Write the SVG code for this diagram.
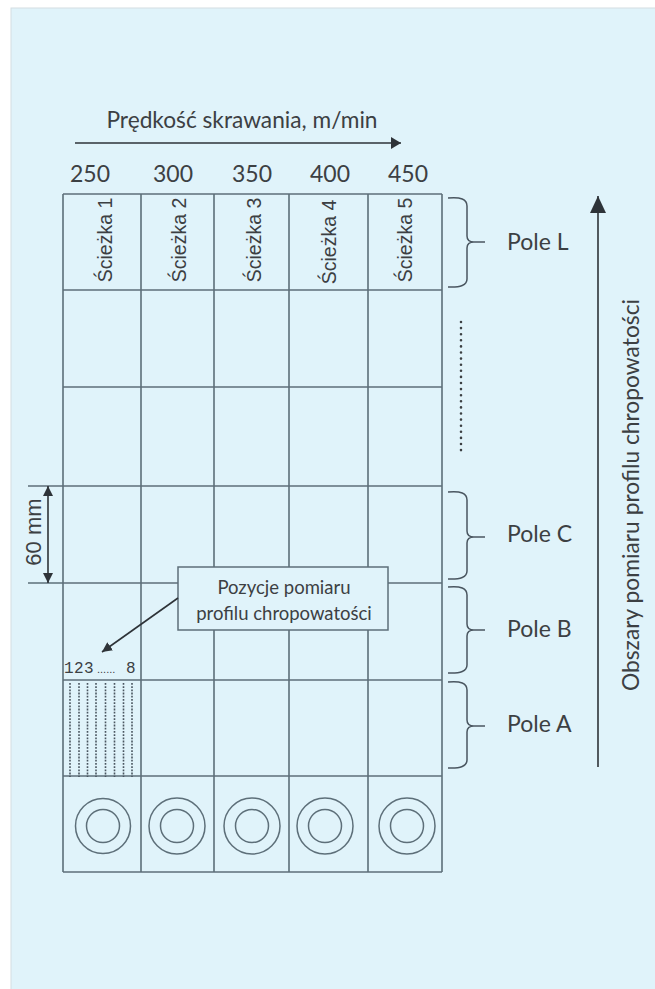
<svg xmlns="http://www.w3.org/2000/svg" width="655" height="989" viewBox="0 0 655 989">
<style>
.bg{fill:#e0f3fa;stroke:#d3dde2;stroke-width:1}
.g{stroke:#5d6f79;stroke-width:1.6;fill:none}
.c{stroke:#5d6f79;stroke-width:1.5;fill:none}
.k{stroke:#2e3338;stroke-width:1.6;fill:none}
.cal{font-family:Lato,"Open Sans",sans-serif;fill:#3c4043}
.ari{font-family:"Liberation Sans",Arial,sans-serif;fill:#3c4043}
.br{stroke:#4a5660;stroke-width:1.5;fill:none}
.dash{stroke:#4a5660;stroke-width:1.6;stroke-dasharray:1.8 1.4;fill:none}
</style>
<defs>
<marker id="mH" markerUnits="userSpaceOnUse" viewBox="0 0 10 12" refX="10" refY="6" markerWidth="10" markerHeight="12" orient="auto"><path d="M0,0L10,6L0,12z" fill="#2e3338"/></marker>
<marker id="mV" markerUnits="userSpaceOnUse" viewBox="0 0 17 16" refX="17" refY="8" markerWidth="17" markerHeight="16" orient="auto"><path d="M0,0L17,8L0,16z" fill="#2e3338"/></marker>
<marker id="mS" markerUnits="userSpaceOnUse" viewBox="0 0 10 10" refX="10" refY="5" markerWidth="10" markerHeight="10" orient="auto-start-reverse"><path d="M0,0L10,5L0,10z" fill="#2e3338"/></marker>
</defs>
<rect x="11" y="8" width="650" height="990" class="bg"/>

<g id="speed-axis">
<text class="cal" x="242" y="128" font-size="22.7" text-anchor="middle">Prędkość skrawania, m/min</text>
</g>
<g id="speed-values" class="cal" font-size="23" text-anchor="middle">
<text x="90" y="182">250</text>
<text x="173" y="182">300</text>
<text x="252" y="182">350</text>
<text x="330" y="182">400</text>
<text x="408" y="182">450</text>
</g>

<g id="grid">
<path class="g" d="M63,194V872M141,194V872M214,194V872M289,194V872M368,194V872M442,194V872"/>
<path class="g" d="M63,194H442M63,290H442M63,387H442M28,486H442M63,583H442M63,680H442M63,776H442M63,872H442"/>
<path class="g" d="M28,583H63"/>
</g>

<g id="tracks" class="ari" font-size="19.5" text-anchor="middle">
<text transform="translate(112,240) rotate(-90)">Ścieżka 1</text>
<text transform="translate(186,240) rotate(-90)">Ścieżka 2</text>
<text transform="translate(261,240) rotate(-90)">Ścieżka 3</text>
<text transform="translate(336,242) rotate(-90)">Ścieżka 4</text>
<text transform="translate(412,240) rotate(-90)">Ścieżka 5</text>
</g>

<g id="dim-60mm">
<text class="ari" font-size="22" text-anchor="middle" transform="translate(41,532) rotate(-90)">60 mm</text>
</g>

<g id="callout">
<rect x="178" y="567" width="210" height="63" fill="#e0f3fa" stroke="#5d6f79" stroke-width="1.5"/>
<text class="cal" font-size="18.5" text-anchor="middle" x="284" y="594">Pozycje pomiaru</text>
<text class="cal" font-size="18.5" text-anchor="middle" x="284" y="620">profilu chropowatości</text>
</g>

<g id="positions">
<text font-family="'Liberation Mono',monospace" font-size="16" fill="#3c4043" y="673"><tspan x="64">1</tspan><tspan x="74">2</tspan><tspan x="84">3</tspan><tspan x="97" font-size="11" font-family="'Liberation Sans',sans-serif">......</tspan><tspan x="126">8</tspan></text>
<path class="dash" d="M70,683V777M79,683V777M87.5,683V777M96,683V777M105.5,683V777M114.5,683V777M123.5,683V777M132,683V777"/>
</g>

<g id="samples">
<circle class="c" cx="103" cy="826" r="27.5"/><circle class="c" cx="103" cy="826" r="16.5"/>
<circle class="c" cx="177" cy="826" r="28"/><circle class="c" cx="177" cy="826" r="16.5"/>
<circle class="c" cx="252" cy="826" r="28"/><circle class="c" cx="252" cy="826" r="16.5"/>
<circle class="c" cx="325" cy="826" r="28"/><circle class="c" cx="325" cy="826" r="16.5"/>
<circle class="c" cx="407" cy="826" r="28"/><circle class="c" cx="407" cy="826" r="16.5"/>
</g>

<g id="pole-L">
<path class="br" d="M448,198Q467,196 467,206V236Q467,242 474,242H485M474,242Q467,242 467,248V279Q467,288 448,287"/>
<text class="cal" font-size="23" x="507" y="250">Pole L</text>
</g>
<g id="pole-more">
<path d="M461,322V452" stroke="#3c4043" stroke-width="2.6" stroke-linecap="round" stroke-dasharray="0 6.1" fill="none"/>
</g>
<g id="pole-C">
<path class="br" d="M448,492Q467,490 467,500V531Q467,537 474,537H485M474,537Q467,537 467,543V571Q467,580 448,579"/>
<text class="cal" font-size="23" x="507" y="542">Pole C</text>
</g>
<g id="pole-B">
<path class="br" d="M448,587Q467,585 467,595V624Q467,630 474,630H485M474,630Q467,630 467,636V665Q467,674 448,673"/>
<text class="cal" font-size="23" x="507" y="637">Pole B</text>
</g>
<g id="pole-A">
<path class="br" d="M448,682Q467,680 467,690V720Q467,726 474,726H485M474,726Q467,726 467,732V760Q467,769 448,768"/>
<text class="cal" font-size="23" x="507" y="732">Pole A</text>
</g>

<g id="areas-axis">
<text class="cal" font-size="22.8" text-anchor="middle" transform="translate(639,495) rotate(-90)">Obszary pomiaru profilu chropowatości</text>
</g>

<g id="connectors">
<line class="k" x1="75" y1="143" x2="401" y2="143" marker-end="url(#mH)"/>
<line class="k" x1="598" y1="767" x2="598" y2="196" marker-end="url(#mV)"/>
<line class="k" stroke-width="1.3" x1="48" y1="486" x2="48" y2="583" marker-start="url(#mS)" marker-end="url(#mS)"/>
<line class="k" stroke-width="1.3" x1="178" y1="598" x2="102" y2="652" marker-end="url(#mS)"/>
</g>
</svg>
